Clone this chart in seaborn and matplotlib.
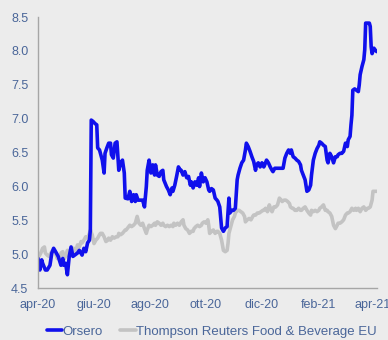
import numpy as np
import pandas as pd
import matplotlib
matplotlib.use("Agg")
import matplotlib.pyplot as plt
from matplotlib.lines import Line2D
import seaborn as sns

# Daily closes, indexed by days elapsed since 1 April 2020
orsero_days = [0, 2, 4, 5, 8, 10, 13, 15, 17, 20, 22, 25, 27, 28, 30, 32, 34, 36, 38, 40,
               43, 45, 48, 50, 52, 54, 56, 57, 58, 60, 62, 64, 65, 67, 68, 70, 72, 73, 75, 77,
               79, 80, 82, 84, 86, 88, 90, 92, 94, 95, 98, 100, 102, 104, 106, 107, 109, 112, 114, 116,
               118, 119, 121, 123, 125, 127, 128, 130, 132, 134, 136, 137, 140, 142, 144, 146, 147, 149, 151, 153,
               155, 156, 158, 160, 162, 164, 166, 167, 169, 171, 173, 175, 176, 178, 180, 182, 184, 186, 187, 189,
               191, 193, 195, 196, 198, 200, 202, 204, 206, 207, 208, 209, 211, 213, 215, 217, 218, 220, 222, 224,
               226, 227, 229, 231, 233, 235, 237, 238, 240, 242, 244, 246, 247, 249, 251, 253, 255, 256, 258, 262,
               266, 267, 269, 271, 273, 275, 276, 278, 280, 282, 284, 286, 287, 289, 291, 293, 295, 297, 298, 300,
               302, 304, 306, 307, 309, 311, 313, 315, 316, 318, 320, 322, 324, 326, 327, 329, 331, 333, 335, 337,
               338, 340, 341, 342, 343, 345, 347, 349, 350, 351, 353, 355, 356, 357, 359, 361, 362, 363, 364, 366,
               367, 369]
orsero = [4.94, 4.77, 4.92, 4.87, 4.77, 4.77, 4.84, 5.02, 5.09, 5.02, 4.97, 4.84, 4.94, 4.84, 4.87, 4.70, 4.97, 5.11, 4.97, 4.99,
          5.02, 5.06, 4.99, 5.09, 5.04, 5.17, 5.21, 5.36, 6.98, 6.96, 6.93, 6.91, 6.57, 6.54, 6.49, 6.39, 6.20, 6.49, 6.57, 6.64,
          6.64, 6.47, 6.42, 6.64, 6.66, 6.24, 6.35, 6.39, 6.20, 5.83, 5.82, 5.93, 5.78, 5.88, 5.78, 5.88, 5.80, 5.80, 5.80, 5.70,
          6.00, 6.24, 6.39, 6.20, 6.32, 6.17, 6.32, 6.17, 6.15, 6.22, 6.24, 6.10, 6.00, 5.95, 5.88, 5.98, 5.93, 6.02, 6.15, 6.29,
          6.24, 6.24, 6.17, 6.22, 6.13, 6.15, 6.02, 6.07, 5.98, 6.07, 6.02, 6.13, 6.00, 6.20, 6.07, 6.13, 6.07, 5.95, 5.93, 5.97,
          5.95, 5.83, 5.80, 5.78, 5.70, 5.39, 5.34, 5.39, 5.41, 5.61, 5.83, 5.61, 5.65, 5.65, 5.68, 6.10, 6.17, 6.27, 6.35, 6.39,
          6.54, 6.64, 6.59, 6.52, 6.44, 6.37, 6.24, 6.32, 6.35, 6.29, 6.35, 6.29, 6.32, 6.39, 6.35, 6.29, 6.24, 6.22, 6.27, 6.27,
          6.27, 6.27, 6.42, 6.49, 6.54, 6.49, 6.54, 6.44, 6.42, 6.39, 6.37, 6.32, 6.24, 6.17, 6.10, 5.93, 5.95, 6.02, 6.17, 6.39,
          6.49, 6.56, 6.61, 6.66, 6.64, 6.61, 6.59, 6.39, 6.35, 6.49, 6.44, 6.35, 6.44, 6.44, 6.47, 6.49, 6.49, 6.52, 6.64, 6.59,
          6.69, 6.74, 6.91, 7.05, 7.42, 7.44, 7.42, 7.40, 7.50, 7.65, 7.77, 7.87, 8.02, 8.41, 8.41, 8.41, 8.36, 8.06, 7.96, 8.04,
          8.02, 7.99]

index_days = [0, 1, 3, 5, 7, 8, 10, 12, 14, 16, 17, 19, 21, 23, 25, 27, 28, 30, 32, 34,
              36, 38, 39, 41, 43, 45, 47, 48, 50, 52, 54, 56, 57, 59, 61, 63, 65, 67, 68, 70,
              72, 74, 76, 77, 79, 81, 83, 85, 87, 88, 90, 92, 95, 96, 100, 102, 104, 106, 107, 108,
              110, 112, 114, 116, 118, 119, 121, 123, 125, 127, 128, 130, 132, 134, 136, 137, 139, 141, 143, 145,
              147, 148, 150, 152, 154, 156, 158, 159, 161, 163, 165, 167, 169, 170, 172, 174, 176, 178, 179, 181,
              183, 185, 186, 187, 189, 191, 193, 195, 196, 198, 200, 202, 204, 206, 207, 208, 210, 212, 214, 215,
              217, 219, 221, 223, 225, 226, 228, 230, 232, 234, 235, 237, 239, 241, 243, 245, 246, 248, 250, 252,
              254, 255, 257, 259, 261, 263, 265, 266, 268, 270, 272, 274, 275, 277, 278, 280, 282, 284, 286, 287,
              289, 291, 293, 295, 297, 298, 300, 302, 304, 306, 307, 309, 311, 313, 315, 316, 318, 320, 322, 324,
              326, 327, 329, 331, 333, 335, 337, 338, 340, 342, 344, 346, 347, 349, 351, 353, 355, 357, 359, 360,
              362, 364, 365, 367, 369]
index_eu = [4.99, 4.97, 5.02, 5.09, 5.11, 5.02, 4.99, 4.97, 5.02, 5.06, 5.06, 5.02, 4.94, 4.94, 5.02, 5.04, 4.92, 4.97, 5.06, 4.97,
            5.02, 5.06, 5.09, 5.04, 5.14, 5.11, 5.19, 5.17, 5.21, 5.26, 5.24, 5.31, 5.36, 5.29, 5.16, 5.21, 5.24, 5.29, 5.31, 5.31,
            5.26, 5.19, 5.21, 5.24, 5.21, 5.26, 5.24, 5.26, 5.26, 5.31, 5.29, 5.31, 5.36, 5.36, 5.43, 5.41, 5.43, 5.46, 5.51, 5.56,
            5.46, 5.43, 5.46, 5.38, 5.31, 5.36, 5.43, 5.41, 5.43, 5.46, 5.43, 5.48, 5.46, 5.43, 5.46, 5.43, 5.41, 5.43, 5.41, 5.43,
            5.41, 5.46, 5.43, 5.46, 5.43, 5.48, 5.51, 5.43, 5.38, 5.36, 5.31, 5.34, 5.34, 5.38, 5.41, 5.43, 5.41, 5.43, 5.46, 5.48,
            5.46, 5.51, 5.43, 5.31, 5.34, 5.36, 5.31, 5.34, 5.34, 5.31, 5.21, 5.06, 5.04, 5.06, 5.16, 5.31, 5.41, 5.51, 5.56, 5.61,
            5.65, 5.65, 5.63, 5.61, 5.56, 5.48, 5.51, 5.53, 5.51, 5.56, 5.58, 5.58, 5.61, 5.61, 5.63, 5.65, 5.65, 5.68, 5.63, 5.73,
            5.65, 5.63, 5.70, 5.70, 5.73, 5.83, 5.80, 5.78, 5.80, 5.80, 5.78, 5.75, 5.70, 5.68, 5.68, 5.65, 5.65, 5.68, 5.65, 5.65,
            5.68, 5.70, 5.65, 5.61, 5.58, 5.65, 5.63, 5.65, 5.63, 5.65, 5.68, 5.70, 5.73, 5.65, 5.65, 5.63, 5.61, 5.56, 5.43, 5.38,
            5.43, 5.46, 5.46, 5.48, 5.51, 5.58, 5.61, 5.61, 5.63, 5.68, 5.65, 5.68, 5.65, 5.68, 5.63, 5.68, 5.70, 5.65, 5.68, 5.68,
            5.70, 5.80, 5.93, 5.93, 5.93]

series_names = ["Orsero", "Thompson Reuters Food & Beverage EU"]
tick_dates = ["2020-04-01", "2020-06-01", "2020-08-01", "2020-10-01",
              "2020-12-01", "2021-02-01", "2021-04-01"]
tick_labels = ["apr-20", "giu-20", "ago-20", "ott-20", "dic-20", "feb-21", "apr-21"]
y_ticks = [4.5, 5.0, 5.5, 6.0, 6.5, 7.0, 7.5, 8.0, 8.5]

start = pd.Timestamp("2020-04-01")
frames = []
for name, days, vals in [(series_names[0], orsero_days, orsero),
                         (series_names[1], index_days, index_eu)]:
    frames.append(pd.DataFrame({
        "date": start + pd.to_timedelta(days, unit="D"),
        "price": vals,
        "series": name,
    }))
df = pd.concat(frames, ignore_index=True)

bg = "#ececec"
text_col = "#4a6699"
axis_col = "#a6a6a6"
blue = "#1010ec"
grey = "#c3c3c3"

sns.set_theme(style="white")
plt.rcParams["font.family"] = ["Liberation Sans", "DejaVu Sans"]

fig = plt.figure(figsize=(3.88, 3.40), dpi=100, facecolor=bg)
ax = fig.add_axes([0.098, 0.152, 0.874, 0.798])
ax.set_facecolor(bg)

sns.lineplot(data=df, x="date", y="price", hue="series",
             hue_order=series_names[::-1],
             palette={series_names[0]: blue, series_names[1]: grey},
             linewidth=2.6, ax=ax, legend=False, estimator=None)

ax.set_ylim(4.5, 8.5)
ax.set_xlim(start, start + pd.Timedelta(days=369.5))
ax.set_yticks(y_ticks)
ax.set_yticklabels([f"{v:.1f}" for v in y_ticks])
ax.set_xticks(pd.to_datetime(tick_dates))
ax.set_xticklabels(tick_labels)
ax.set_xlabel("")
ax.set_ylabel("")

for side in ["top", "right"]:
    ax.spines[side].set_visible(False)
for side in ["left", "bottom"]:
    ax.spines[side].set_color(axis_col)
    ax.spines[side].set_linewidth(1.0)

ax.tick_params(axis="both", which="major", direction="out", length=4, width=1.0,
               color=axis_col, labelcolor=text_col, labelsize=9)
ax.tick_params(axis="x", pad=4)
ax.tick_params(axis="y", pad=3)

handles = [Line2D([], [], color=blue, lw=2.6),
           Line2D([], [], color=grey, lw=2.6)]
leg = fig.legend(handles, series_names, loc="lower center", ncol=2,
                 bbox_to_anchor=(0.545, -0.028), frameon=False, fontsize=9.5,
                 handlelength=1.2, handletextpad=0.0, columnspacing=1.3)
for t in leg.get_texts():
    t.set_color(text_col)

fig.savefig("out.png", dpi=100, facecolor=bg)
